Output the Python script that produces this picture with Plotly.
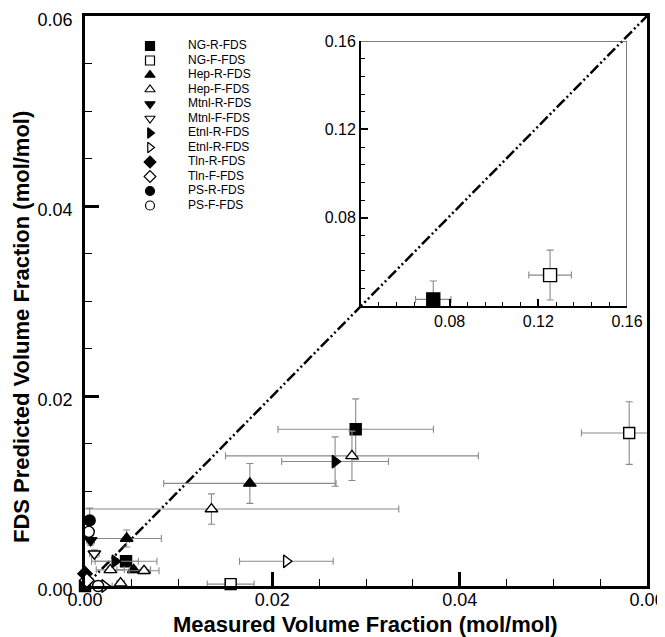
import plotly.graph_objects as go

# ---------------- data ----------------
series_names = ["NG-R-FDS", "NG-F-FDS", "Hep-R-FDS", "Hep-F-FDS", "Mtnl-R-FDS", "Mtnl-F-FDS",
                "Etnl-R-FDS", "Etnl-R-FDS", "Tln-R-FDS", "Tln-F-FDS", "PS-R-FDS", "PS-F-FDS"]
series_symbols = ["square", "square", "triangle-up", "triangle-up", "triangle-down", "triangle-down",
                  "triangle-right", "triangle-right", "diamond", "diamond", "circle", "circle"]
series_filled = [True, False, True, False, True, False, True, False, True, False, True, False]

# main-plot measurements: measured (x), predicted (y), and error half-widths
ng_r_x = [0.0289, 0.00438, 0.0000]
ng_r_y = [0.0165, 0.0026, 0.0000]
ng_r_ex = [0.0083, 0.0033, 0.0]
ng_r_ey = [0.0032, 0.0004, 0.0]

ng_f_x = [0.0581, 0.01555]
ng_f_y = [0.0161, 0.0002]
ng_f_ex = [0.0051, 0.0025]
ng_f_ey = [0.0033, 0.0]

hep_r_x = [0.0176, 0.00445, 0.0052]
hep_r_y = [0.0108, 0.0050, 0.0017]
hep_r_ex = [0.0092, 0.0037, 0.0018]
hep_r_ey = [0.0021, 0.0009, 0.0003]

hep_f_x = [0.0285, 0.0135, 0.0027, 0.0063, 0.0038]
hep_f_y = [0.0137, 0.0081, 0.0017, 0.0016, 0.0003]
hep_f_ex = [0.0135, 0.0200, 0.0015, 0.0016, 0.0004]
hep_f_ey = [0.0026, 0.0016, 0.0003, 0.0003, 0.0]

mtnl_r_x = [0.0006]
mtnl_r_y = [0.0048]
mtnl_r_ex = [0.0004]
mtnl_r_ey = [0.0005]

mtnl_f_x = [0.0010]
mtnl_f_y = [0.0034]
mtnl_f_ex = [0.0005]
mtnl_f_ey = [0.0004]

etnl_r_x = [0.0267, 0.0032]
etnl_r_y = [0.0131, 0.0026]
etnl_r_ex = [0.0057, 0.0025]
etnl_r_ey = [0.0026, 0.0003]

etnl_f_x = [0.0215, 0.0021]
etnl_f_y = [0.0026, 0.0000]
etnl_f_ex = [0.0050, 0.0008]
etnl_f_ey = [0.0, 0.0]

tln_r_x = [0.0000]
tln_r_y = [0.0013]
tln_r_ex = [0.0]
tln_r_ey = [0.0]

tln_f_x = [0.0002]
tln_f_y = [0.0006]
tln_f_ex = [0.0]
tln_f_ey = [0.0]

ps_r_x = [0.0005]
ps_r_y = [0.0069]
ps_r_ex = [0.0]
ps_r_ey = [0.0013]

ps_f_x = [0.0004, 0.0014]
ps_f_y = [0.0057, 0.0000]
ps_f_ex = [0.0, 0.0]
ps_f_ey = [0.0, 0.0]

# inset measurements (larger concentrations)
inset_ng_r_x = [0.0726]
inset_ng_r_y = [0.0430]
inset_ng_r_ex = [0.0080]
inset_ng_r_ey = [0.0083]

inset_ng_f_x = [0.1253]
inset_ng_f_y = [0.0540]
inset_ng_f_ex = [0.0096]
inset_ng_f_ey = [0.0113]

main_ticks = [0.0, 0.02, 0.04, 0.06]
main_ticktext = ["0.00", "0.02", "0.04", "0.06"]
inset_ticks = [0.08, 0.12, 0.16]
inset_ticktext = ["0.08", "0.12", "0.16"]
diag = [0.0, 0.06]
x_title = "<b>Measured Volume Fraction (mol/mol)</b>"
y_title = "<b>FDS Predicted Volume Fraction (mol/mol)</b>"

main_data = [
    (ng_r_x, ng_r_y, ng_r_ex, ng_r_ey),
    (ng_f_x, ng_f_y, ng_f_ex, ng_f_ey),
    (hep_r_x, hep_r_y, hep_r_ex, hep_r_ey),
    (hep_f_x, hep_f_y, hep_f_ex, hep_f_ey),
    (mtnl_r_x, mtnl_r_y, mtnl_r_ex, mtnl_r_ey),
    (mtnl_f_x, mtnl_f_y, mtnl_f_ex, mtnl_f_ey),
    (etnl_r_x, etnl_r_y, etnl_r_ex, etnl_r_ey),
    (etnl_f_x, etnl_f_y, etnl_f_ex, etnl_f_ey),
    (tln_r_x, tln_r_y, tln_r_ex, tln_r_ey),
    (tln_f_x, tln_f_y, tln_f_ex, tln_f_ey),
    (ps_r_x, ps_r_y, ps_r_ex, ps_r_ey),
    (ps_f_x, ps_f_y, ps_f_ex, ps_f_ey),
]
inset_data = [
    (0, inset_ng_r_x, inset_ng_r_y, inset_ng_r_ex, inset_ng_r_ey),
    (1, inset_ng_f_x, inset_ng_f_y, inset_ng_f_ex, inset_ng_f_ey),
]

FONT = "Arial, 'Liberation Sans', sans-serif"
ERR_COLOR = "#8a8a8a"


def marker_style(i, size):
    return dict(symbol=series_symbols[i], size=size,
                color="black" if series_filled[i] else "white",
                line=dict(color="black", width=1.4))


def err(vals):
    return dict(type="data", array=vals, color=ERR_COLOR, thickness=1.1, width=3.5, visible=True)


fig = go.Figure()

# diagonal y = x
fig.add_trace(go.Scatter(x=diag, y=diag, mode="lines", xaxis="x", yaxis="y",
                         line=dict(color="black", width=2.5, dash="11px,3px,2px,3px,2px,3px"),
                         showlegend=False, hoverinfo="skip"))

for i, (xs, ys, exs, eys) in enumerate(main_data):
    fig.add_trace(go.Scatter(x=xs, y=ys, mode="markers", name=series_names[i],
                             xaxis="x", yaxis="y", marker=marker_style(i, 11),
                             error_x=err(exs), error_y=err(eys), cliponaxis=False,
                             showlegend=False))

for i, xs, ys, exs, eys in inset_data:
    fig.add_trace(go.Scatter(x=xs, y=ys, mode="markers", name=series_names[i],
                             xaxis="x2", yaxis="y2", marker=marker_style(i, 13),
                             error_x=err(exs), error_y=err(eys), cliponaxis=False,
                             showlegend=False))

# page layout in screen pixels (the page body adds an 8px offset)
OFF = 8
W, H = 665 - OFF, 637 - OFF
PX0, PX1, PY0, PY1 = 85, 647, 16, 586          # plot area on screen
ix0, ix1, iy0, iy1 = 361, 627, 306, 41          # inset box on screen
ML, MT = PX0 - OFF, PY0 - OFF
MR, MB = W - (PX1 - OFF), H - (PY1 - OFF)
pw, ph = PX1 - PX0, PY1 - PY0

# hand-built legend on an overlay axis measured in screen pixels
leg_idx = list(range(len(series_names)))
leg_y = [46 + 14.5 * k for k in leg_idx]
for i in leg_idx:
    fig.add_trace(go.Scatter(x=[150], y=[leg_y[i]], mode="markers", xaxis="x3", yaxis="y3",
                             marker=dict(symbol=series_symbols[i], size=9,
                                         color="black" if series_filled[i] else "white",
                                         line=dict(color="black", width=1.2)),
                             showlegend=False, hoverinfo="skip"))
fig.add_trace(go.Scatter(x=[188] * len(leg_idx), y=leg_y, mode="text", text=series_names,
                         textposition="middle right", xaxis="x3", yaxis="y3",
                         textfont=dict(family=FONT, size=12, color="black"),
                         showlegend=False, hoverinfo="skip"))

axis_common = dict(showgrid=False, zeroline=False, showline=True, linecolor="black",
                   ticks="inside", tickcolor="black", automargin=False,
                   ticklabeloverflow="allow")
main_minor = dict(dtick=0.005, ticks="inside", ticklen=7, tickwidth=1, tickcolor="black")
inset_minor = dict(dtick=0.008, tick0=0.0, ticks="inside", ticklen=4, tickwidth=1, tickcolor="black")

fig.update_layout(
    template="none",
    width=W, height=H,
    margin=dict(l=ML, r=MR, t=MT, b=MB, autoexpand=False),
    paper_bgcolor="white", plot_bgcolor="rgba(0,0,0,0)",
    font=dict(family=FONT, color="black"),
    xaxis=dict(axis_common, domain=[0, 1], range=[0, 0.06], linewidth=2.5, mirror=True,
               tickvals=main_ticks, ticktext=main_ticktext, ticklen=14, tickwidth=2.5,
               ticklabelstandoff=-4,
               tickfont=dict(family=FONT, size=18, color="black"), minor=main_minor),
    yaxis=dict(axis_common, domain=[0, 1], range=[0, 0.06], linewidth=2.5, mirror=True,
               tickvals=main_ticks, ticktext=main_ticktext, ticklen=14, tickwidth=2.5,
               ticklabelstandoff=6, ticklabelshift=4,
               tickfont=dict(family=FONT, size=18, color="black"), minor=main_minor),
    xaxis2=dict(axis_common, anchor="y2",
                domain=[(ix0 - PX0) / pw, (ix1 - PX0) / pw], range=[0.04, 0.16], linewidth=2,
                tickvals=inset_ticks, ticktext=inset_ticktext, ticklen=7, tickwidth=1.5,
                tickfont=dict(family=FONT, size=16, color="black"), minor=inset_minor),
    yaxis2=dict(axis_common, anchor="x2",
                domain=[(PY1 - iy0) / ph, (PY1 - iy1) / ph], range=[0.04, 0.16], linewidth=2,
                tickvals=inset_ticks, ticktext=inset_ticktext, ticklen=7, tickwidth=1.5,
                tickfont=dict(family=FONT, size=16, color="black"), minor=inset_minor),
    xaxis3=dict(domain=[0, 1], range=[PX0, PX1], visible=False, fixedrange=True,
                anchor="y3", overlaying="x"),
    yaxis3=dict(domain=[0, 1], range=[PY1, PY0], visible=False, fixedrange=True,
                anchor="x3", overlaying="y"),
    shapes=[
        dict(type="line", xref="x2", yref="y2", x0=0.04, x1=0.16, y0=0.16, y1=0.16,
             line=dict(color="#555555", width=1.5)),
        dict(type="line", xref="x2", yref="y2", x0=0.16, x1=0.16, y0=0.04, y1=0.16,
             line=dict(color="#555555", width=1.5)),
    ],
    annotations=[
        dict(text=x_title, xref="paper", yref="paper",
             x=(365 - PX0) / pw, y=(PY1 - 624) / ph, xanchor="center", yanchor="middle",
             showarrow=False, font=dict(family=FONT, size=22, color="black")),
        dict(text=y_title, xref="paper", yref="paper", textangle=-90,
             x=(22 - PX0) / pw, y=(PY1 - 327) / ph, xanchor="center", yanchor="middle",
             showarrow=False, font=dict(family=FONT, size=22, color="black")),
    ],
)

fig.write_html("out.html")
